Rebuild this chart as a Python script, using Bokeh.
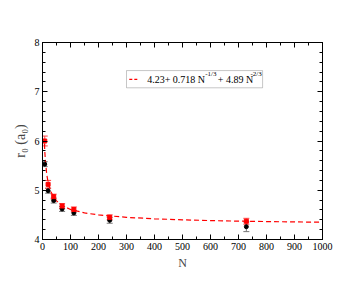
from bokeh.plotting import figure
from bokeh.models import (ColumnDataSource, Whisker, TeeHead, LinearAxis, SingleIntervalTicker,
                          BoxAnnotation, Label, Range1d)
from bokeh.embed import file_html
from bokeh.resources import INLINE

# ---- data ----
n_vals = [8, 20, 40, 70, 112, 240, 728]
r_red = [6.00, 5.12, 4.87, 4.68, 4.61, 4.45, 4.37]
e_red = [0.10, 0.08, 0.05, 0.05, 0.05, 0.05, 0.06]
r_black = [5.53, 4.99, 4.79, 4.62, 4.54, 4.39, 4.26]
e_black = [0.05, 0.05, 0.05, 0.05, 0.05, 0.06, 0.10]

fit_n = [7, 8, 10, 15, 20, 30, 40, 50, 70, 100, 150, 200, 300, 400, 500, 600, 700, 800, 900, 1000]
fit_r = [5.94, 5.81, 5.62, 5.33, 5.16, 4.97, 4.86, 4.785, 4.69, 4.61, 4.54, 4.50, 4.45,
         4.42, 4.40, 4.384, 4.373, 4.364, 4.357, 4.351]

legend_parts = ["4.23+ 0.718 N", "-1/3", "+ 4.89 N", "-2/3"]
x_label = "N"
y_label = "r\u2080 (a\u2080)"

FONT = "Liberation Serif"

p = figure(frame_width=280, frame_height=197, output_backend="svg", toolbar_location=None,
           x_range=Range1d(0, 1000), y_range=Range1d(4, 8),
           min_border_left=42, min_border_right=33, min_border_top=42, min_border_bottom=34,
           x_axis_label=x_label, y_axis_label=y_label)
p.grid.visible = False
p.outline_line_color = "black"
p.outline_line_width = 1
p.background_fill_color = "white"
p.border_fill_color = "white"

xt = SingleIntervalTicker(interval=100, num_minor_ticks=2)
yt = SingleIntervalTicker(interval=1, num_minor_ticks=5)
p.xaxis.ticker = xt
p.yaxis.ticker = yt
p.add_layout(LinearAxis(ticker=xt), "above")
p.add_layout(LinearAxis(ticker=yt), "right")

for ax in p.axis:
    ax.major_tick_in = 5
    ax.major_tick_out = 0
    ax.minor_tick_in = 3
    ax.minor_tick_out = 0
    ax.axis_line_color = "black"
    ax.major_tick_line_color = "black"
    ax.minor_tick_line_color = "black"
    ax.major_label_text_font = FONT
    ax.major_label_text_font_size = "10px"
    ax.major_label_text_color = "black"
    ax.major_label_standoff = 3
    ax.axis_label_text_font = FONT
    ax.axis_label_text_font_size = "12px"
    ax.axis_label_text_font_style = "normal"
    ax.axis_label_standoff = 3
for ax in p.above + p.right:
    ax.major_label_text_color = None
p.yaxis[0].axis_label_text_font_size = "14px"
p.yaxis[0].axis_label_standoff = 4

# fit curve
p.line(fit_n, fit_r, line_color="red", line_width=1.2, line_dash="5 3")

# error bars
src_red = ColumnDataSource(dict(x=n_vals, y=r_red,
                                lo=[v - e for v, e in zip(r_red, e_red)],
                                hi=[v + e for v, e in zip(r_red, e_red)]))
src_blk = ColumnDataSource(dict(x=n_vals, y=r_black,
                                lo=[v - e for v, e in zip(r_black, e_black)],
                                hi=[v + e for v, e in zip(r_black, e_black)]))
p.add_layout(Whisker(source=src_blk, base="x", upper="hi", lower="lo", line_color="#777",
                     upper_head=TeeHead(size=6, line_color="#777"),
                     lower_head=TeeHead(size=6, line_color="#777")))
p.add_layout(Whisker(source=src_red, base="x", upper="hi", lower="lo", line_color="#f44",
                     upper_head=TeeHead(size=6, line_color="#f44"),
                     lower_head=TeeHead(size=6, line_color="#f44")))
p.scatter("x", "y", source=src_blk, marker="circle", size=4, color="black")
p.scatter("x", "y", source=src_red, marker="square", size=4, color="red")

# legend (manual, to allow superscripts)
p.add_layout(BoxAnnotation(left=300, right=786, top=7.43, bottom=7.08, fill_color="white",
                           fill_alpha=1, line_color="#444", line_width=1, level="annotation"))
p.line([310, 340], [7.253, 7.253], line_color="red", line_width=1.2, line_dash="3 2", level="overlay")
for txt, xx, yy, fs in [(legend_parts[0], 374, 7.253, "10px"),
                        (legend_parts[1], 581, 7.36, "7px"),
                        (legend_parts[2], 626, 7.253, "10px"),
                        (legend_parts[3], 743, 7.36, "7px")]:
    p.add_layout(Label(x=xx, y=yy, text=txt, text_font=FONT, text_font_size=fs,
                       text_baseline="middle", text_align="left", text_color="black",
                       level="overlay"))

open("out.html", "w").write(file_html(p, INLINE))
